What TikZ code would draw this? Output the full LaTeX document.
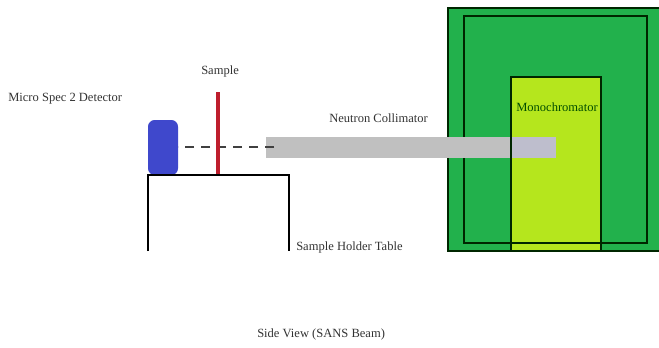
\documentclass[tikz,border=0pt]{standalone}
\usepackage{fontspec}
\setmainfont{Liberation Serif}
\definecolor{housing}{RGB}{34,177,76}
\definecolor{mono}{RGB}{181,230,29}
\definecolor{colli}{RGB}{192,192,192}
\definecolor{colliend}{RGB}{190,190,205}
\definecolor{det}{RGB}{63,72,204}
\definecolor{samp}{RGB}{190,30,45}
\definecolor{lbl}{RGB}{50,50,50}
\tikzset{
  x=0.75pt,y=-0.75pt,
  box/.style={draw=black!85!green,line width=2.2pt,inner sep=0pt},
  lab/.style={font=\fontsize{9.4pt}{11pt}\selectfont,text=lbl,inner sep=0pt,anchor=base west},
  tableline/.style={draw=black,line width=1.5pt},
}
\begin{document}
\begin{tikzpicture}
\useasboundingbox (0,0) rectangle (659,347);
\draw[box,fill=housing] (448,8) rectangle (660,251);
\draw[box] (464,16) rectangle (647,243);
\draw[box,fill=mono] (511,77) rectangle (601,251);
\draw[box] (464,243) -- (647,243);
\fill[colli] (266,137) rectangle (511,158);
\fill[colliend] (511,137) rectangle (556,158);
\draw[draw=black!85!green,line width=2.2pt] (511,137) -- (511,158);
\fill[det,rounded corners=5pt] (148,120) rectangle (178,175);
\coordinate (detR) at (178,147);
\coordinate (colL) at (274,147);
\draw[black!75,line width=0.9pt,dash pattern=on 7pt off 5pt] (colL) -- (detR);
\coordinate (sT) at (218,92);
\coordinate (sB) at (218,175);
\draw[samp,line width=2.8pt] (sT) -- (sB);
\coordinate (tl) at (148,251);
\coordinate (tL) at (148,175);
\coordinate (tR) at (289,175);
\coordinate (tr) at (289,251);
\draw[tableline] (tl) -- (tL) -- (tR) -- (tr);
\node[lab] (l1) at (8,101) {Micro Spec 2 Detector};
\node[lab] (l2) at (201,74) {Sample};
\node[lab] (l3) at (329,122) {Neutron Collimator};
\node[lab] (l4) at (296,250) {Sample Holder Table};
\node[lab] (l5) at (257,337) {Side View (SANS Beam)};
\node[lab,text=black!70!green] (l6) at (516,111) {Monochromator};
\end{tikzpicture}
\end{document}
